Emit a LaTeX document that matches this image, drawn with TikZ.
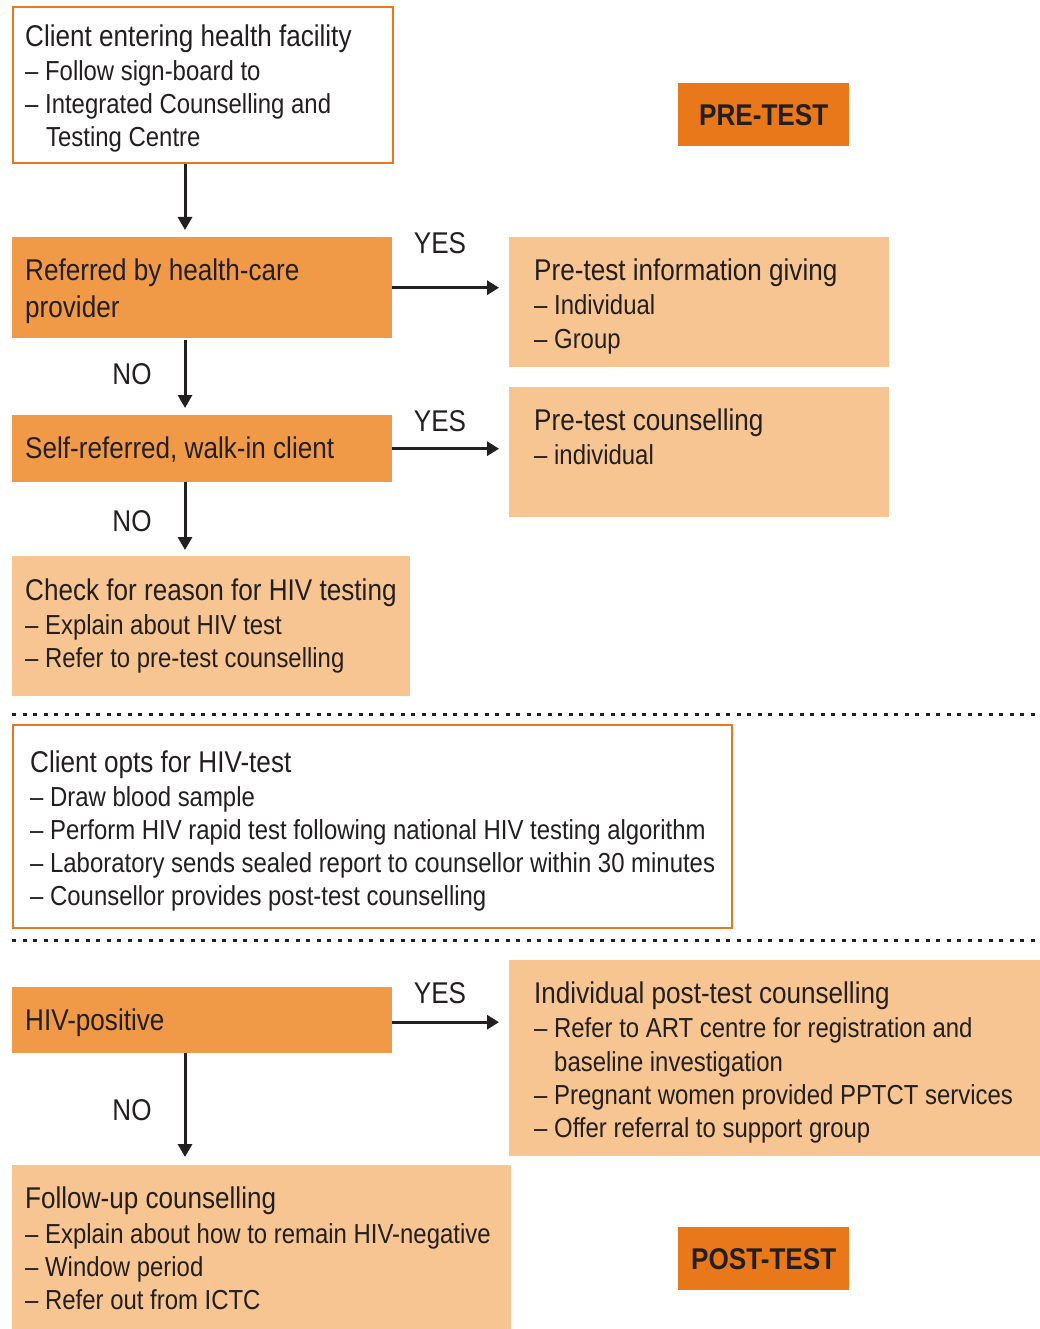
\documentclass[tikz,border=0pt]{standalone}
\usepackage{fontspec}
\setmainfont[FakeStretch=0.87]{Liberation Sans}
\usetikzlibrary{arrows.meta}
\definecolor{bord}{HTML}{E87722}
\definecolor{midor}{HTML}{F09A48}
\definecolor{light}{HTML}{F6C592}
\definecolor{tag}{HTML}{E87819}
\definecolor{txt}{HTML}{231F20}
\tikzset{
  wbox/.style={draw=bord, line width=2pt, fill=white, anchor=north west, inner sep=0},
  mbox/.style={fill=midor, anchor=north west, inner sep=0},
  lbox/.style={fill=light, anchor=north west, inner sep=0},
  tagbox/.style={fill=tag, anchor=north west, inner sep=0},
  hd/.style={anchor=base west, inner sep=0, text=txt, font=\fontsize{30}{33}\selectfont},
  it/.style={anchor=base west, inner sep=0, text=txt, font=\fontsize{27.5}{33}\selectfont},
  lab/.style={inner sep=0, text=txt, font=\fontsize{30}{33}\selectfont},
  tagtxt/.style={inner sep=0, text=txt, font=\bfseries\fontsize{30}{33}\selectfont},
  arr/.style={draw=txt, line width=3pt, -{Triangle[length=13pt,width=14pt]}},
  harr/.style={draw=txt, line width=3.4pt, -{Triangle[length=12pt,width=14pt]}},
  sep/.style={draw=txt, line width=3pt, dash pattern=on 4pt off 6.5pt}
}
\begin{document}
\begin{tikzpicture}[x=1pt,y=-1pt]
\useasboundingbox (0,0) rectangle (1040,1329);
% boxes
\node[wbox, minimum width=380, minimum height=156] (b1) at (12,6) {};
\node[mbox, minimum width=380, minimum height=101] (b2) at (12,237) {};
\node[lbox, minimum width=380, minimum height=130] (p1) at (509,237) {};
\node[mbox, minimum width=380, minimum height=67] (b3) at (12,415) {};
\node[lbox, minimum width=380, minimum height=130] (p2) at (509,387) {};
\node[lbox, minimum width=398, minimum height=140] (b4) at (12,556) {};
\node[wbox, minimum width=719, minimum height=203] (b5) at (12,724) {};
\node[mbox, minimum width=380, minimum height=66] (b6) at (12,987) {};
\node[lbox, minimum width=531, minimum height=196] (p3) at (509,960) {};
\node[lbox, minimum width=499, minimum height=164] (b7) at (12,1165) {};
\node[tagbox, minimum width=171, minimum height=63] (t1) at (678,83) {};
\node[tagbox, minimum width=171, minimum height=63] (t2) at (678,1227) {};
\node[tagtxt] (t1txt) at (t1.center) {PRE-TEST};
\node[tagtxt] (t2txt) at (t2.center) {POST-TEST};
% texts
\node[hd] (b1a) at (25,47) {Client entering health facility};
\node[it] (b1b) at (25,81) {– Follow sign-board to};
\node[it] (b1c) at (25,114) {– Integrated Counselling and};
\node[it] (b1d) at (46,147) {Testing Centre};
\node[hd] (b2a) at (25,281) {Referred by health-care};
\node[hd] (b2b) at (25,317) {provider};
\node[hd] (p1a) at (534,281) {Pre-test information giving};
\node[it] (p1b) at (534,314) {– Individual};
\node[it] (p1c) at (534,348) {– Group};
\node[hd] (b3a) at (25,458) {Self-referred, walk-in client};
\node[hd] (p2a) at (534,430) {Pre-test counselling};
\node[it] (p2b) at (534,464) {– individual};
\node[hd] (b4a) at (25,600) {Check for reason for HIV testing};
\node[it] (b4b) at (25,634) {– Explain about HIV test};
\node[it] (b4c) at (25,667) {– Refer to pre-test counselling};
\node[hd] (b5a) at (30,772) {Client opts for HIV-test};
\node[it] (b5b) at (30,806) {– Draw blood sample};
\node[it] (b5c) at (30,839) {– Perform HIV rapid test following national HIV testing algorithm};
\node[it] (b5d) at (30,872) {– Laboratory sends sealed report to counsellor within 30 minutes};
\node[it] (b5e) at (30,905) {– Counsellor provides post-test counselling};
\node[hd] (b6a) at (25,1030) {HIV-positive};
\node[hd] (p3a) at (534,1003) {Individual post-test counselling};
\node[it] (p3b) at (534,1037) {– Refer to ART centre for registration and};
\node[it] (p3c) at (554,1071) {baseline investigation};
\node[it] (p3d) at (534,1104) {– Pregnant women provided PPTCT services};
\node[it] (p3e) at (534,1137) {– Offer referral to support group};
\node[hd] (b7a) at (25,1208) {Follow-up counselling};
\node[it] (b7b) at (25,1243) {– Explain about how to remain HIV-negative};
\node[it] (b7c) at (25,1276) {– Window period};
\node[it] (b7d) at (25,1309) {– Refer out from ICTC};
% labels
\node[lab] (y1) at (440,243) {YES};
\node[lab] (y2) at (440,421) {YES};
\node[lab] (y3) at (440,993) {YES};
\node[lab] (n1) at (132,374) {NO};
\node[lab] (n2) at (132,521) {NO};
\node[lab] (n3) at (132,1110) {NO};
% connectors
\coordinate (ax) at (185,0);
\draw[arr, shorten >=7pt] (b1.south -| ax) -- (b2.north -| ax);
\draw[arr, shorten >=7pt, shorten <=2pt] (b2.south -| ax) -- (b3.north -| ax);
\draw[arr, shorten >=6pt] (b3.south -| ax) -- (b4.north -| ax);
\draw[arr, shorten >=8pt] (b6.south -| ax) -- (b7.north -| ax);
\draw[harr, shorten >=10pt] (b2.east) -- (b2.east -| p1.west);
\draw[harr, shorten >=10pt] (b3.east) -- (b3.east -| p2.west);
\draw[harr, shorten >=10pt] ([yshift=-2pt]b6.east) -- ([yshift=-2pt]b6.east -| p3.west);
% separators
\coordinate (s1a) at (12,714);
\coordinate (s1b) at (1040,714);
\coordinate (s2a) at (12,940);
\coordinate (s2b) at (1040,940);
\draw[sep] (s1a) -- (s1b);
\draw[sep] (s2a) -- (s2b);
\end{tikzpicture}
\end{document}
